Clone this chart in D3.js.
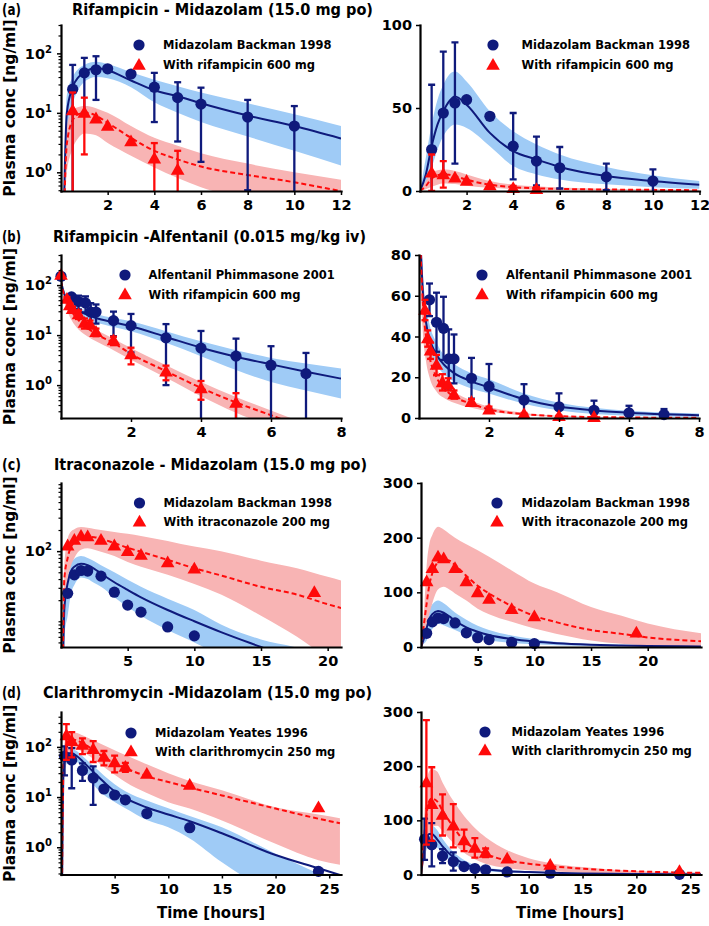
<!DOCTYPE html>
<html><head><meta charset="utf-8">
<script src="https://cdn.jsdelivr.net/npm/d3@7"></script>
<style>
body{margin:0;background:#fff}
svg{display:block}
text{font-family:"DejaVu Sans",sans-serif;font-weight:bold;fill:#000}
</style>
</head><body>
<svg id="c" width="709" height="926"></svg>
<script>
// ---------------- DATA ----------------
const panelLetters = ["(a)", "(b)", "(c)", "(d)"];
const panelTitles = [
  "Rifampicin - Midazolam (15.0 mg po)",
  "Rifampicin -Alfentanil (0.015 mg/kg iv)",
  "Itraconazole - Midazolam (15.0 mg po)",
  "Clarithromycin -Midazolam  (15.0 mg po)"
];
const legendA = ["Midazolam Backman 1998", "With rifampicin 600 mg"];
const legendB = ["Alfentanil Phimmasone 2001", "With rifampicin 600 mg"];
const legendC = ["Midazolam Backman 1998", "With itraconazole 200 mg"];
const legendD = ["Midazolam Yeates 1996", "With clarithromycin 250 mg"];
const yLabel = "Plasma conc [ng/ml]";
const xLabel = "Time [hours]";

// (a) Rifampicin - Midazolam
const aModelT   = [0, 0.25, 0.5, 0.75, 1, 1.25, 1.5, 2, 3, 4, 5, 6, 8, 10, 12];
const aBlueSim  = [0, 10, 27, 40, 48, 54, 57, 52, 35, 24, 19, 14.5, 9, 6, 3.7];
const aBlueHi   = [0, 20, 40, 55, 64, 70, 72, 66, 48, 36, 28, 22, 14.5, 9.5, 6];
const aBlueLo   = [0, 4, 14, 25, 33, 38, 40, 38, 27, 15, 10, 7, 4, 2.3, 1.3];
const aRedSim   = [0, 3, 7.5, 9.5, 10, 9.8, 9, 6.8, 3.8, 2.3, 1.65, 1.25, 0.9, 0.68, 0.48];
const aRedHi    = [0, 6, 11, 12.5, 13, 12.8, 12, 10, 6, 3.8, 2.8, 2.1, 1.4, 1.0, 0.75];
const aRedLo    = [0, 1, 2.5, 3.8, 4.5, 4.4, 4.2, 3.1, 1.9, 1.2, 0.8, 0.56, 0.35, 0.25, 0.2];
const aBlueObsT = [0.5, 1, 1.5, 2, 3, 4, 5, 6, 8, 10];
const aBlueObs  = [25, 47, 53, 55, 45, 27, 18, 14, 8.5, 6];
const aBlueSd   = [39, 37, 36.5, 0, 0, 20, 14.7, 12.5, 8, 7];
const aRedObsT  = [0.5, 1, 1.5, 2, 3, 4, 5];
const aRedObs   = [11, 10, 8, 6, 3.3, 1.7, 1.1];
const aRedSd    = [11, 8, 0, 0, 0, 1.4, 1.2];

// (b) Rifampicin - Alfentanil
const bModelT   = [0, 0.05, 0.1, 0.2, 0.3, 0.5, 0.75, 1, 1.5, 2, 3, 4, 5, 6, 7, 8];
const bBlueSim  = [120, 85, 65, 47, 39, 31, 25.5, 22, 18, 15, 9.2, 5.6, 3.7, 2.6, 1.85, 1.35];
const bBlueHi   = [130, 95, 75, 55, 46, 37, 30, 26.5, 22, 19, 12, 7.5, 5, 3.5, 2.7, 2.15];
const bBlueLo   = [110, 75, 55, 40, 33, 26, 21, 18, 14.5, 12, 7, 3.8, 2, 1.15, 0.78, 0.54];
const bRedSim   = [120, 80, 60, 40, 30, 20, 14, 10.5, 7, 4.2, 1.9, 0.88, 0.45, 0.25, 0.14, 0.08];
const bRedHi    = [130, 90, 70, 48, 37, 25, 17, 13, 8.5, 5.5, 2.5, 1.15, 0.58, 0.31, 0.17, 0.1];
const bRedLo    = [110, 65, 45, 28, 20, 13, 9.5, 7.5, 5, 3.2, 1.4, 0.6, 0.28, 0.15, 0.08, 0.05];
const bBlueObsT = [0, 0.3, 0.5, 0.7, 0.85, 1, 1.5, 2, 3, 4, 5, 6, 7];
const bBlueObs  = [150, 58, 47, 44, 29, 29, 19.5, 15.5, 8.8, 5.5, 3.8, 2.5, 1.7];
const bBlueSd   = [0, 8, 14.5, 15.5, 14.5, 12, 10, 11, 7.8, 6.6, 4.7, 3.5, 2.7];
const bRedObsT  = [0, 0.17, 0.25, 0.33, 0.5, 0.67, 0.83, 1, 1.5, 2, 3, 4, 5];
const bRedObs   = [160, 53, 39, 33, 26, 17.5, 16.5, 11.5, 7.8, 4.1, 1.85, 0.86, 0.44];
const bRedSd    = [0, 5, 4, 4, 5, 4, 3, 2, 1.5, 1.5, 0.6, 0.35, 0.25];

// (c) Itraconazole - Midazolam
const cModelT   = [0, 0.25, 0.5, 0.75, 1, 1.5, 2, 2.5, 3, 4, 5, 6, 8, 10, 12, 15, 17.7, 20, 24.7];
const cBlueSim  = [0, 15, 35, 52, 60, 66, 63, 56, 48, 36, 28, 22, 14.5, 10, 7, 4.3, 2.8, 2, 1];
const cBlueHi   = [0, 22, 45, 68, 78, 85, 80, 72, 63, 50, 39, 31, 21, 14.5, 9, 5.5, 4.2, 3, 1.5];
const cBlueLo   = [0, 6, 12, 25, 33, 42, 40, 35, 31, 22, 16, 12, 7.5, 5, 3.2, 1.8, 1.2, 0.8, 0.4];
const cRedSim   = [0, 40, 80, 115, 135, 155, 160, 158, 150, 130, 112, 98, 75, 57, 45, 31, 24, 17.5, 10.5];
const cRedHi    = [0, 60, 150, 190, 205, 220, 215, 207, 200, 188, 177, 165, 140, 116, 100, 73, 57, 43, 25];
const cRedLo    = [0, 10, 40, 62, 80, 105, 110, 105, 98, 85, 70, 60, 46, 34, 24, 12, 6, 3, 1];
const cBlueObsT = [0.5, 1, 1.5, 2, 3, 4, 5, 6, 8, 10];
const cBlueObs  = [25, 46, 53, 52, 44, 26, 17, 13.5, 8.3, 6.2];
const cRedObsT  = [0.5, 1, 1.5, 2, 3, 4, 5, 6, 8, 10, 19];
const cRedObs   = [120, 144, 165, 162, 144, 120, 100, 88, 69, 56, 26];

// (d) Clarithromycin - Midazolam
const dModelT   = [0, 0.25, 0.5, 0.75, 1, 1.5, 2, 3, 4, 5, 6, 8, 10, 12, 15, 20, 24, 26];
const dBlueSim  = [0, 40, 65, 75, 75, 65, 52, 32, 20, 13, 9.5, 6.2, 4.5, 3.3, 1.9, 0.7, 0.38, 0.28];
const dBlueHi   = [0, 55, 80, 88, 90, 82, 66, 42, 27, 18, 13, 8.5, 6, 4.2, 2.5, 0.74, 0.3, 0.2];
const dBlueLo   = [0, 25, 45, 55, 57, 50, 40, 18, 11, 8, 6, 3.5, 2.5, 1.5, 0.5, 0.12, 0.07, 0.05];
const dRedSim   = [0, 60, 110, 135, 140, 135, 118, 88, 62, 48, 38, 26, 20, 15.5, 10.8, 5.9, 3.7, 3.0];
const dRedHi    = [0, 90, 165, 190, 195, 190, 170, 136, 108, 86, 69, 45, 30, 21, 13.7, 6.3, 4.5, 3.8];
const dRedLo    = [0, 20, 50, 75, 88, 90, 80, 58, 40, 28, 20, 12, 7.9, 5.9, 3.4, 1.17, 0.55, 0.45];
const dBlueObsT = [0.33, 1, 2, 3, 4, 5, 6, 8, 12, 24];
const dBlueObs  = [65, 55, 34, 24, 14.5, 11, 8.8, 4.7, 2.45, 0.33];
const dBlueSd   = [38, 40, 13, 17, 0, 0, 0, 0, 0, 0];
const dRedObsT  = [0.5, 1, 2, 3, 4, 5, 6, 8, 12, 24];
const dRedObs   = [170, 130, 110, 90, 63, 49, 40, 29, 17.5, 6.2];
const dRedSd    = [115, 68, 38, 40, 20, 18, 8, 0, 0, 0];

// tick values
const xTicksA = [2, 4, 6, 8, 10, 12];
const xTicksB = [2, 4, 6, 8];
const xTicksC = [5, 10, 15, 20];
const xTicksD = [5, 10, 15, 20, 25];
const logTicks = [1, 10, 100];
const logTicksC = [100];
const linTicksA = [0, 50, 100];
const linTicksB = [0, 20, 40, 60, 80];
const linTicksCD = [0, 100, 200, 300];

// ---------------- STYLE ----------------
const NAVY = "#0f1a7c", RED = "#ff0a0a";
const BLUEBAND = "#9fcbf6", REDBAND = "#f8b4b4";

const svg = d3.select("#c");
const defs = svg.append("defs");
let clipCount = 0;

function mkSeries(modelT, sim, hi, lo, obsT, obs, sd, isRed) {
  return {
    band: modelT.map((t, i) => ({t, hi: hi[i], lo: lo[i]})),
    line: modelT.map((t, i) => ({t, v: sim[i]})),
    obs: obsT.map((t, i) => ({t, v: obs[i], sd: sd ? sd[i] : 0})),
    color: isRed ? RED : NAVY,
    fill: isRed ? REDBAND : BLUEBAND,
    dash: isRed ? "5,3" : null,
    shape: isRed ? "tri" : "circ"
  };
}

function triPath(cx, cy) {
  return `M${cx},${cy - 7}L${cx + 6.8},${cy + 4.8}L${cx - 6.8},${cy + 4.8}Z`;
}

function drawPanel(p) {
  const g = svg.append("g");
  const x = d3.scaleLinear().domain(p.xDomain).range(p.xRange);
  const y = (p.log ? d3.scaleLog() : d3.scaleLinear()).domain(p.yDomain).range(p.yRange);
  const floor = p.yDomain[0] / 1000;
  const Y = v => p.log ? y(Math.max(v, floor)) : y(v);
  const id = "clip" + (clipCount++);
  defs.append("clipPath").attr("id", id).append("rect")
    .attr("x", p.xRange[0]).attr("y", p.yRange[1])
    .attr("width", p.xRange[1] - p.xRange[0]).attr("height", p.yRange[0] - p.yRange[1]);
  const plot = g.append("g").attr("clip-path", `url(#${id})`);

  p.series.forEach(s => {
    plot.append("path").datum(s.band).attr("fill", s.fill).attr("stroke", "none")
      .attr("d", d3.area().x(d => x(d.t)).y0(d => Y(d.lo)).y1(d => Y(d.hi)).curve(d3.curveMonotoneX));
  });
  p.series.forEach(s => {
    plot.append("path").datum(s.line).attr("fill", "none").attr("stroke", s.color)
      .attr("stroke-width", 2).attr("stroke-dasharray", s.dash)
      .attr("d", d3.line().x(d => x(d.t)).y(d => Y(d.v)).curve(d3.curveMonotoneX));
  });
  p.series.forEach(s => {
    const eg = g.append("g").attr("clip-path", `url(#${id})`)
      .attr("stroke", s.color).attr("stroke-width", 2.3);
    s.obs.filter(d => d.sd > 0).forEach(d => {
      const cx = x(d.t), y1 = Y(d.v - d.sd), y2 = Y(d.v + d.sd);
      eg.append("line").attr("x1", cx).attr("x2", cx).attr("y1", y1).attr("y2", y2);
      eg.append("line").attr("x1", cx - 3.5).attr("x2", cx + 3.5).attr("y1", y1).attr("y2", y1);
      eg.append("line").attr("x1", cx - 3.5).attr("x2", cx + 3.5).attr("y1", y2).attr("y2", y2);
    });
    const vis = s.obs.filter(d => d.v >= p.yDomain[0] && d.v <= p.yDomain[1]);
    const mg = g.append("g").attr("fill", s.color);
    if (s.shape === "circ") {
      mg.selectAll("circle").data(vis).join("circle")
        .attr("cx", d => x(d.t)).attr("cy", d => Y(d.v)).attr("r", 5.6);
    } else {
      mg.selectAll("path").data(vis).join("path").attr("d", d => triPath(x(d.t), Y(d.v)));
    }
  });

  // axes
  const xa = g.append("g").attr("transform", `translate(0,${p.yRange[0]})`)
    .call(d3.axisBottom(x).tickValues(p.xTicks).tickSize(4).tickSizeOuter(0).tickPadding(5));
  const ya = g.append("g").attr("transform", `translate(${p.xRange[0]},0)`)
    .call(d3.axisLeft(y).tickValues(p.yTicks).tickSize(4).tickSizeOuter(0).tickPadding(p.log ? 5 : 4)
      .tickFormat(p.log ? () => "" : d3.format("d")));
  if (p.log) {
    ya.selectAll(".tick text").each(function (d) {
      const t = d3.select(this);
      t.append("tspan").text("10");
      t.append("tspan").attr("dy", "-0.6em").attr("font-size", "10px").text(Math.round(Math.log10(d)));
    });
    const lo = Math.floor(Math.log10(p.yDomain[0])), hi = Math.ceil(Math.log10(p.yDomain[1]));
    const minors = [];
    for (let k = lo; k <= hi; k++) for (let m = 1; m <= 9; m++) {
      const v = m * Math.pow(10, k);
      if (v >= p.yDomain[0] && v <= p.yDomain[1] && !p.yTicks.includes(v)) minors.push(v);
    }
    const mn = g.append("g").attr("transform", `translate(${p.xRange[0]},0)`)
      .call(d3.axisLeft(y).tickValues(minors).tickSize(2.5).tickFormat(() => ""));
    mn.select(".domain").remove();
    mn.selectAll("line").attr("stroke-width", 1.2);
  }
  [xa, ya].forEach(a => {
    a.attr("font-size", null).attr("font-family", null);
    a.select(".domain").attr("stroke-width", 2.2).attr("stroke-linecap", "square");
    a.selectAll(".tick line").attr("stroke-width", 1.5);
    a.selectAll(".tick text").attr("font-size", "14.5px").attr("fill", "#000");
  });

  // legend
  const L = p.legend;
  p.series.forEach((s, i) => {
    const ly = L.y + i * L.dy;
    if (s.shape === "circ") g.append("circle").attr("cx", L.mx).attr("cy", ly).attr("r", 5.6).attr("fill", s.color);
    else g.append("path").attr("d", triPath(L.mx, ly)).attr("fill", s.color);
    g.append("text").attr("x", L.tx).attr("y", ly + 4.3).attr("font-size", "11.5px").text(L.labels[i]);
  });
}

const LX = [61, 341], RX = [421, 701];
const rows = [[191, 25], [418, 255], [647, 483], [874.5, 712]];

const panels = [
  {xRange: LX, yRange: rows[0], xDomain: [0, 12], yDomain: [0.485, 300], log: true, xTicks: xTicksA, yTicks: logTicks,
   series: [mkSeries(aModelT, aBlueSim, aBlueHi, aBlueLo, aBlueObsT, aBlueObs, aBlueSd, false),
            mkSeries(aModelT, aRedSim, aRedHi, aRedLo, aRedObsT, aRedObs, aRedSd, true)],
   legend: {mx: 139, tx: 163, y: 45, dy: 20, labels: legendA}},
  {xRange: [420, 699.5], yRange: rows[0], xDomain: [0, 12], yDomain: [0, 100], log: false, xTicks: xTicksA, yTicks: linTicksA,
   series: [mkSeries(aModelT, aBlueSim, aBlueHi, aBlueLo, aBlueObsT, aBlueObs, aBlueSd, false),
            mkSeries(aModelT, aRedSim, aRedHi, aRedLo, aRedObsT, aRedObs, aRedSd, true)],
   legend: {mx: 493, tx: 521.5, y: 45, dy: 20, labels: legendA}},
  {xRange: LX, yRange: rows[1], xDomain: [0, 8], yDomain: [0.22, 400], log: true, xTicks: xTicksB, yTicks: logTicks,
   series: [mkSeries(bModelT, bBlueSim, bBlueHi, bBlueLo, bBlueObsT, bBlueObs, bBlueSd, false),
            mkSeries(bModelT, bRedSim, bRedHi, bRedLo, bRedObsT, bRedObs, bRedSd, true)],
   legend: {mx: 125, tx: 148.5, y: 275, dy: 19.5, labels: legendB}},
  {xRange: [419, 699], yRange: rows[1], xDomain: [0, 8], yDomain: [0, 80], log: false, xTicks: xTicksB, yTicks: linTicksB,
   series: [mkSeries(bModelT, bBlueSim, bBlueHi, bBlueLo, bBlueObsT, bBlueObs, bBlueSd, false),
            mkSeries(bModelT, bRedSim, bRedHi, bRedLo, bRedObsT, bRedObs, bRedSd, true)],
   legend: {mx: 482, tx: 506, y: 275, dy: 19.5, labels: legendB}},
  {xRange: LX, yRange: rows[2], xDomain: [0, 21], yDomain: [4.3, 936], log: true, xTicks: xTicksC, yTicks: logTicksC,
   series: [mkSeries(cModelT, cBlueSim, cBlueHi, cBlueLo, cBlueObsT, cBlueObs, null, false),
            mkSeries(cModelT, cRedSim, cRedHi, cRedLo, cRedObsT, cRedObs, null, true)],
   legend: {mx: 139.5, tx: 163.5, y: 503, dy: 18.7, labels: legendC}},
  {xRange: RX, yRange: rows[2], xDomain: [0, 24.7], yDomain: [0, 300], log: false, xTicks: xTicksC, yTicks: linTicksCD,
   series: [mkSeries(cModelT, cBlueSim, cBlueHi, cBlueLo, cBlueObsT, cBlueObs, null, false),
            mkSeries(cModelT, cRedSim, cRedHi, cRedLo, cRedObsT, cRedObs, null, true)],
   legend: {mx: 497, tx: 521.5, y: 503, dy: 18.7, labels: legendC}},
  {xRange: LX, yRange: rows[3], xDomain: [0, 26.1], yDomain: [0.286, 497], log: true, xTicks: xTicksD, yTicks: logTicks,
   series: [mkSeries(dModelT, dBlueSim, dBlueHi, dBlueLo, dBlueObsT, dBlueObs, dBlueSd, false),
            mkSeries(dModelT, dRedSim, dRedHi, dRedLo, dRedObsT, dRedObs, dRedSd, true)],
   legend: {mx: 131, tx: 155, y: 733, dy: 18.5, labels: legendD}},
  {xRange: RX, yRange: rows[3], xDomain: [0, 26], yDomain: [0, 300], log: false, xTicks: xTicksD, yTicks: linTicksCD,
   series: [mkSeries(dModelT, dBlueSim, dBlueHi, dBlueLo, dBlueObsT, dBlueObs, dBlueSd, false),
            mkSeries(dModelT, dRedSim, dRedHi, dRedLo, dRedObsT, dRedObs, dRedSd, true)],
   legend: {mx: 485, tx: 511.5, y: 732, dy: 18.5, labels: legendD}}
];
panels.forEach(drawPanel);

// titles and labels
const titleBase = [15, 241.5, 470, 698];
const titleX = [72, 53, 54, 43];
const titleW = [301, 313, 313, 329];
panelLetters.forEach((l, i) => {
  svg.append("text").attr("x", 2).attr("y", titleBase[i]).attr("font-size", "15px")
    .attr("textLength", 19).attr("lengthAdjust", "spacingAndGlyphs").text(l);
  svg.append("text").attr("x", titleX[i]).attr("y", titleBase[i]).attr("font-size", "15.5px")
    .attr("textLength", titleW[i]).attr("lengthAdjust", "spacingAndGlyphs").text(panelTitles[i]);
  const yc = (rows[i][0] + rows[i][1]) / 2;
  svg.append("text").attr("transform", `translate(15,${yc}) rotate(-90)`).attr("text-anchor", "middle")
    .attr("font-size", "15.5px").text(yLabel);
});
[211, 570].forEach(cx => {
  svg.append("text").attr("x", cx).attr("y", 918).attr("text-anchor", "middle").attr("font-size", "15px").text(xLabel);
});
</script>
</body></html>
